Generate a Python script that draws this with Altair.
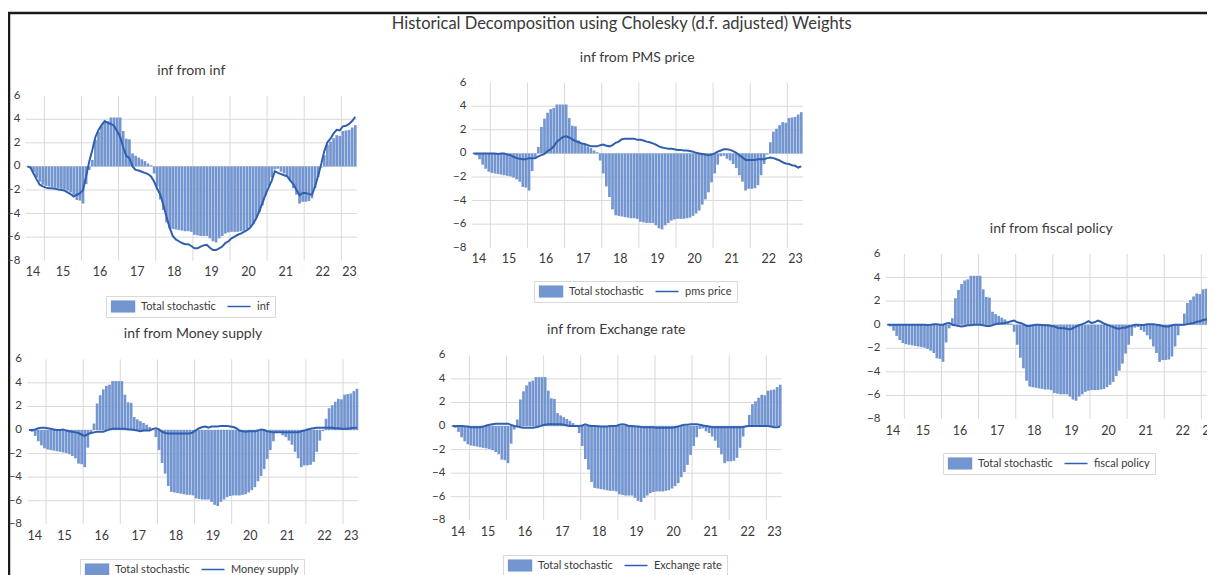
import altair as alt
import pandas as pd

FONT = "Lato"
TXT = "#3a3a3a"
BAR = "#7395d0"
LINE = "#2f5fae"
GRID = "#d9d9d9"

MAIN_TITLE = "Historical Decomposition using Cholesky (d.f. adjusted) Weights"

START = 2014.5
N_MONTHS = 107
END = START + N_MONTHS / 12.0

# Total stochastic (monthly, 2014M7 .. 2023M5)
total = [
    0.0, -0.15, -0.5, -0.95, -1.3, -1.55,
    -1.65, -1.7, -1.75, -1.8, -1.85, -1.9, -1.95, -2.05, -2.2, -2.4, -2.85, -2.9,
    -3.15, -1.5, -0.3, 0.55, 2.25, 2.95, 3.45, 3.75, 3.85, 4.15, 4.15, 4.15,
    4.15, 3.0, 2.35, 2.3, 1.1, 0.9, 0.75, 0.6, 0.45, 0.25, 0.1, -0.6,
    -1.7, -2.8, -3.7, -4.75, -5.25, -5.3, -5.35, -5.4, -5.45, -5.5, -5.5, -5.55,
    -5.8, -5.85, -5.9, -5.9, -5.9, -6.1, -6.35, -6.45, -6.1, -5.9, -5.7, -5.6,
    -5.55, -5.55, -5.55, -5.5, -5.45, -5.3, -5.1, -4.85, -4.35, -3.9, -3.3, -2.45,
    -1.7, -0.95, -0.25, -0.2, -0.45, -0.6, -0.9, -1.25, -1.85, -2.4, -3.15, -3.0,
    -3.0, -2.95, -2.7, -1.85, -0.9, -0.1, 0.95, 1.85, 2.1, 2.4, 2.65, 2.6,
    3.0, 3.05, 3.1, 3.3, 3.5,
]

inf_line = [
    0.0, -0.1, -0.6, -1.1, -1.55, -1.7,
    -1.8, -1.85, -1.85, -1.9, -1.95, -2.0, -2.05, -2.2, -2.35, -2.55, -2.4, -2.3,
    -2.0, -0.85, 0.4, 1.4, 2.5, 3.1, 3.5, 3.85, 3.7, 3.6, 3.45, 3.0,
    2.5, 1.6, 0.9, 0.7, 0.0, -0.3, -0.35, -0.45, -0.55, -0.65, -0.85, -1.3,
    -1.9, -2.4, -3.3, -4.3, -5.2, -5.9, -6.2, -6.35, -6.5, -6.6, -6.6, -6.75,
    -6.95, -6.95, -6.8, -6.7, -6.65, -6.9, -7.1, -7.1, -6.95, -6.8, -6.5, -6.35,
    -6.1, -5.95, -5.8, -5.7, -5.55, -5.4, -5.2, -4.85, -4.4, -3.8, -3.1, -2.4,
    -1.8, -1.2, -0.4, -0.55, -0.65, -0.75, -0.85, -1.2, -1.5, -2.0, -2.45, -2.25,
    -2.25, -2.35, -2.4, -1.7, -0.8, 0.2, 1.3, 2.05, 2.35, 2.8, 3.1, 3.05,
    3.4, 3.45, 3.6, 3.85, 4.2,
]

pms_line = [
    0.0, 0.0, 0.0, 0.0, 0.0, 0.0,
    0.0, 0.0, -0.05, 0.0, 0.0, -0.1, -0.15, -0.3, -0.4, -0.45, -0.5, -0.5,
    -0.4, -0.4, -0.4, -0.25, -0.15, -0.05, 0.2, 0.35, 0.6, 1.0, 1.2, 1.4,
    1.45, 1.35, 1.2, 1.05, 0.95, 0.85, 0.8, 0.7, 0.6, 0.6, 0.6, 0.7,
    0.75, 0.65, 0.6, 0.7, 0.9, 1.0, 1.2, 1.25, 1.25, 1.25, 1.25, 1.15,
    1.15, 1.1, 1.0, 0.95, 0.85, 0.75, 0.6, 0.5, 0.45, 0.4, 0.4, 0.35,
    0.3, 0.3, 0.25, 0.25, 0.2, 0.15, 0.05, 0.0, -0.05, -0.1, -0.15, -0.1,
    0.0, 0.15, 0.25, 0.35, 0.35, 0.3, 0.2, 0.05, -0.15, -0.35, -0.55, -0.55,
    -0.55, -0.55, -0.5, -0.5, -0.5, -0.4, -0.35, -0.4, -0.5, -0.6, -0.75, -0.85,
    -0.9, -1.0, -1.05, -1.2, -1.1,
]

fiscal_line = [
    0.0, 0.0, 0.0, 0.0, 0.0, 0.0,
    0.0, 0.0, 0.0, 0.0, 0.0, 0.0, 0.0, -0.03, 0.0, 0.05, 0.05, 0.0,
    0.0, 0.1, 0.15, 0.0, -0.05, -0.1, -0.15, -0.1, -0.05, -0.05, 0.0, 0.0,
    0.0, -0.05, -0.1, -0.1, -0.05, 0.05, 0.1, 0.1, 0.15, 0.2, 0.3, 0.35,
    0.2, 0.15, 0.05, -0.1, -0.1, -0.05, 0.0, 0.0, -0.02, -0.05, -0.05, -0.1,
    -0.15, -0.25, -0.3, -0.3, -0.35, -0.4, -0.3, -0.15, -0.05, 0.05, 0.15, 0.3,
    0.15, 0.2, 0.35, 0.25, 0.1, 0.0, -0.1, -0.2, -0.3, -0.35, -0.25, -0.25,
    -0.15, -0.1, 0.0, 0.0, -0.02, -0.02, 0.05, 0.05, 0.05, 0.0, -0.05, -0.1,
    -0.15, -0.15, -0.05, 0.0, 0.0, 0.0, 0.0, 0.05, 0.1, 0.15, 0.25, 0.3,
    0.4, 0.45, 0.45, 0.4, 0.35,
]

money_line = [
    0.0, 0.0, 0.05, 0.15, 0.2, 0.2,
    0.15, 0.1, 0.05, 0.0, 0.0, 0.05, -0.05, -0.1, -0.15, -0.2, -0.25, -0.4,
    -0.5, -0.35, -0.25, -0.2, -0.15, -0.15, -0.15, -0.05, 0.05, 0.1, 0.1, 0.1,
    0.1, 0.1, 0.05, 0.05, 0.0, -0.05, -0.1, -0.05, -0.05, -0.05, 0.1, 0.15,
    0.05, -0.15, -0.25, -0.3, -0.3, -0.3, -0.3, -0.3, -0.3, -0.3, -0.3, -0.2,
    0.0, 0.15, 0.25, 0.3, 0.2, 0.3, 0.3, 0.3, 0.35, 0.35, 0.35, 0.3,
    0.25, 0.15, -0.05, -0.1, -0.15, -0.1, -0.1, -0.1, -0.05, 0.05, 0.0, -0.1,
    -0.15, -0.2, -0.2, -0.2, -0.2, -0.2, -0.2, -0.2, -0.2, -0.2, -0.1, -0.05,
    0.05, 0.1, 0.15, 0.2, 0.2, 0.2, 0.2, 0.2, 0.2, 0.15, 0.15, 0.1,
    0.1, 0.1, 0.15, 0.2, 0.2, 0.1,
][:N_MONTHS]

exch_line = [
    0.0, 0.0, 0.0, 0.0, -0.03, -0.05,
    -0.1, -0.1, -0.1, -0.1, -0.05, 0.05, 0.1, 0.15, 0.2, 0.2, 0.2, 0.2,
    0.2, 0.1, 0.0, -0.05, -0.1, -0.15, -0.15, -0.15, -0.15, -0.1, -0.05, 0.05,
    0.1, 0.15, 0.15, 0.15, 0.15, 0.15, 0.1, 0.05, 0.0, 0.0, 0.0, 0.0,
    0.05, 0.15, 0.05, 0.0, 0.0, -0.02, -0.05, -0.05, -0.05, 0.0, 0.0, 0.0,
    0.1, 0.15, 0.1, 0.0, 0.0, -0.03, -0.05, -0.08, -0.1, -0.1, -0.1, -0.1,
    -0.15, -0.15, -0.15, -0.15, -0.15, -0.15, -0.1, -0.05, 0.05, 0.1, 0.1, 0.15,
    0.15, 0.15, 0.1, 0.05, 0.0, -0.05, -0.1, -0.1, -0.1, -0.1, -0.1, -0.1,
    -0.1, -0.1, -0.1, -0.1, -0.08, -0.02, 0.0, 0.0, 0.0, 0.0, 0.0, 0.0,
    0.0, -0.05, -0.1, -0.1, -0.05,
]

month_t = [START + (i + 0.5) / 12.0 for i in range(N_MONTHS)]

df = pd.DataFrame({
    "t": month_t,
    "total": total,
    "inf": inf_line,
    "pms": pms_line,
    "fiscal": fiscal_line,
    "money": money_line,
    "exch": exch_line,
})

grid_years = list(range(2015, 2024))
grid_levels = [-6, -4, -2, 0, 2, 4]
y_ticks = [-8, -6, -4, -2, 0, 2, 4, 6]
x_tick_labels = ["14", "15", "16", "17", "18", "19", "20", "21", "22", "23"]
x_label_at = [START] + [y + 0.5 for y in range(2015, 2023)] + [END]

W, H = 1201, 600
PW, PH = 331, 165
MID = (START + END) / 2

# title, column, series name, plot left, plot top, legend x, legend y
panels = [
    ("inf from inf", "inf", "inf", 16.8, 82.7, 97, 283),
    ("inf from PMS price", "pms", "pms price", 462.8, 69.7, 525, 268),
    ("inf from fiscal policy", "fiscal", "fiscal policy", 876.8, 241, 934, 440),
    ("inf from Money supply", "money", "Money supply", 18.5, 346.3, 71, 546),
    ("inf from Exchange rate", "exch", "Exchange rate", 441.8, 342.3, 494, 542),
]

IS_BAR = "datum.value === 'Total stochastic'"

xlab_df = pd.DataFrame({"p": x_label_at, "lab": x_tick_labels})
ylab_df = pd.DataFrame({"v": y_ticks})


def make_panel(title, col, name, left, top, leg_x, leg_y, with_main=False):
    xs = alt.Scale(domain=[START, END], range=[left, left + PW], nice=False,
                   zero=False, padding=0)
    ys = alt.Scale(domain=[-8, 6], range=[top + PH, top], nice=False,
                   zero=False, padding=0)
    cs = alt.Scale(domain=["Total stochastic", name], range=[BAR, LINE])

    legend = alt.Legend(
        orient="none", legendX=leg_x, legendY=leg_y, direction="horizontal",
        title=None, labelFont=FONT, labelFontSize=11, labelColor=TXT,
        symbolType={"expr": f"{IS_BAR} ? 'M-1,-0.5H1V0.5H-1Z' : 'stroke'"},
        symbolStrokeColor={"expr": f"{IS_BAR} ? '#1d2b47' : '{LINE}'"},
        symbolStrokeWidth=1.5,
        symbolSize=529, clipHeight=12, labelOffset=5.5, columnPadding=10,
        padding=4.5, strokeColor="#d9d9d9", fillColor="white",
    )

    vgrid = alt.Chart(pd.DataFrame({"year": grid_years})).mark_rule(
        color=GRID, strokeWidth=1
    ).encode(
        x=alt.X("year:Q", scale=xs, axis=None),
        y=alt.YDatum(-8, scale=ys, axis=None),
        y2=alt.Y2Datum(6),
    )
    hgrid = alt.Chart(pd.DataFrame({"level": grid_levels})).mark_rule(
        color=GRID, strokeWidth=1
    ).encode(
        y=alt.Y("level:Q", scale=ys, axis=None),
        x=alt.XDatum(START, scale=xs, axis=None),
        x2=alt.X2Datum(END),
    )
    bars = alt.Chart(df).transform_calculate(
        series="'Total stochastic'"
    ).mark_bar(size=2.7).encode(
        x=alt.X("t:Q", scale=xs, axis=None),
        y=alt.Y("total:Q", scale=ys, axis=None),
        y2=alt.Y2Datum(0),
        color=alt.Color("series:N", scale=cs, legend=legend),
    )
    line = alt.Chart(df).transform_calculate(
        series=f"'{name}'"
    ).mark_line(strokeWidth=2).encode(
        x=alt.X("t:Q", scale=xs, axis=None),
        y=alt.Y(f"{col}:Q", scale=ys, axis=None),
        color=alt.Color("series:N", scale=cs, legend=None),
    )

    text_style = dict(font=FONT, color=TXT, baseline="middle")
    ylabels = alt.Chart(ylab_df).mark_text(align="right", dx=-5.5, fontSize=11.5,
                                           **text_style).encode(
        y=alt.Y("v:Q", scale=ys, axis=None),
        x=alt.XDatum(START, scale=xs, axis=None),
        text=alt.Text("v:Q", format="d"),
    )
    xl_parts = []
    for sub, align in ((xlab_df.iloc[:1], "left"), (xlab_df.iloc[1:-1], "center"),
                       (xlab_df.iloc[-1:], "right")):
        xl_parts.append(
            alt.Chart(sub.reset_index(drop=True)).mark_text(
                align=align, dy=11.5, fontSize=12.5, **text_style
            ).encode(
                x=alt.X("p:Q", scale=xs, axis=None),
                y=alt.YDatum(-8, scale=ys, axis=None),
                text="lab:N",
            )
        )
    ptitle = alt.Chart(pd.DataFrame({"title": [title]})).mark_text(
        align="center", baseline="middle", dy=-25, font=FONT, fontSize=14, color=TXT
    ).encode(
        x=alt.XDatum(MID, scale=xs, axis=None),
        y=alt.YDatum(6, scale=ys, axis=None),
        text="title:N",
    )
    parts = [vgrid, hgrid, bars, line, ylabels, *xl_parts, ptitle]
    if with_main:
        parts.append(
            alt.Chart(pd.DataFrame({"title": [MAIN_TITLE]})).mark_text(
                align="center", baseline="alphabetic", dx=-15.6, dy=-53.4,
                font=FONT, fontSize=16.5, color=TXT
            ).encode(
                x=alt.XDatum(MID, scale=xs, axis=None),
                y=alt.YDatum(6, scale=ys, axis=None),
                text="title:N",
            )
        )
    return alt.layer(*parts)


layers = [make_panel(*p, with_main=(i == 1)) for i, p in enumerate(panels)]

chart = alt.layer(*layers).resolve_scale(
    x="independent", y="independent", color="independent"
).resolve_legend(
    color="independent"
).properties(
    width=W, height=H,
    autosize="none",
    background="white",
    padding={"left": 1, "top": 5, "right": -3, "bottom": 0},
).configure_view(
    stroke="#1a1a1a", strokeWidth=2.5
)

chart.save("out.html", embed_options={"renderer": "svg", "actions": False})
